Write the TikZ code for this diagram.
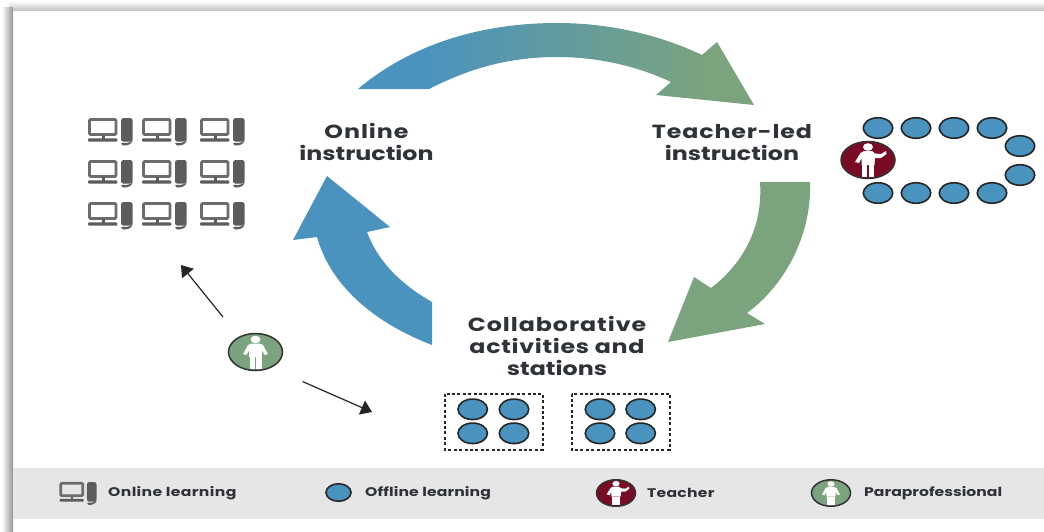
\documentclass[tikz,border=0pt]{standalone}
\usepackage{fontspec}
\usetikzlibrary{shapes.geometric,arrows.meta}
\setmainfont[FakeStretch=1.25]{Poppins}
\newcommand{\wider}[2]{{\addfontfeature{LetterSpace=#1}#2}}
\definecolor{cblue}{HTML}{4A93BF}
\definecolor{cgreen}{HTML}{7BA37D}
\definecolor{cmaroon}{HTML}{7A0B25}
\definecolor{cband}{HTML}{E6E6E6}
\definecolor{cicon}{HTML}{5C5C5C}
\definecolor{ctext}{HTML}{2F3338}
\pgfdeclarehorizontalshading{arcgrad}{100bp}{color(0bp)=(cblue); color(33bp)=(cblue); color(69bp)=(cgreen); color(100bp)=(cgreen)}
\tikzset{
  seat/.style={ellipse,draw=black!85,line width=1.6pt,fill=cblue,inner sep=0pt,minimum width=29.5pt,minimum height=20.5pt},
  seatsmall/.style={seat,minimum width=25pt,minimum height=17.5pt},
  role/.style={ellipse,draw=black!80,line width=1.5pt,inner sep=0pt,minimum width=54pt,minimum height=37pt},
  rolesmall/.style={role,minimum width=39pt,minimum height=26.5pt},
  biglabel/.style={inner sep=0pt,text=ctext,font=\bfseries\fontsize{19}{22}\selectfont,align=center},
  leglabel/.style={inner sep=0pt,text=ctext,font=\bfseries\fontsize{12.5}{14}\selectfont,anchor=west},
  pointer/.style={draw=black!85,line width=1.2pt,-{Triangle[length=11pt,width=15pt]}},
  pod/.style={draw=black!85,line width=2pt,dash pattern=on 3pt off 2.4pt},
  pc/.pic={
    \draw[cicon!90,line width=2.7pt,rounded corners=1pt] (1.5,1.5) rectangle (28,16.4);
    \fill[cicon] (13.5,17) rectangle (16.5,20.5);
    \fill[cicon,rounded corners=1pt] (0,20.3) rectangle (29.3,23.7);
    \fill[cicon,rounded corners=2.5pt] (33,0) rectangle (44.7,23.7);
    \fill[cicon] (33,25) .. controls (38,25) and (42,25) .. (44.7,22.5) .. controls (44,26) and (39,28) .. (35,27.5) -- cycle;
  },
  personbody/.pic={
    \fill[white] (0,-12.5) ellipse (5 and 3.8);
    \fill[white] (-4,-8.5) -- (4,-8.5) -- (7.5,-7) -- (12.5,2) -- (9,3) -- (6.3,-2) -- (6.5,5) -- (-6.5,5) -- (-6.3,-2) -- (-9,3) -- (-12.5,2) -- (-7.5,-7) -- cycle;
    \fill[white] (-6,5) rectangle (-0.6,17);
    \fill[white] (0.6,5) rectangle (6,17);
  },
  teacherbody/.pic={
    \fill[white] (0,-13) ellipse (5 and 3.8);
    \fill[white] (-4,-9) -- (4,-9) -- (7,-6.5) -- (13,-6) -- (18,-9) -- (18.5,-6) -- (13,-2) -- (7,-2) -- (6.5,5) -- (-6.5,5) -- (-6.3,-2) -- (-9,3) -- (-13,2) -- (-7.5,-7) -- cycle;
    \fill[white] (-6,5) rectangle (-0.6,17);
    \fill[white] (0.6,5) rectangle (6,17);
  }
}
\begin{document}
\begin{tikzpicture}[x=1pt,y=-1pt]
\useasboundingbox (0,0) rectangle (1044,531);
\fill[white] (0,0) rectangle (1044,531);
% page shadow
\shade[top color=white,bottom color=black!22] (9,1) rectangle (1044,10);
\shade[left color=white,right color=black!42] (2,7) rectangle (13,531);
% legend band
\fill[cband] (13,467.5) rectangle (1044,519);
% cycle arrows
\path[shading=arcgrad] (358,89) .. controls (410,45) and (480,23) .. (557,23) .. controls (610,23) and (660,35) .. (702,55) -- (717,42) -- (754,105) -- (656,95) -- (671,82) .. controls (635,65) and (595,57) .. (557,57) .. controls (510,57) and (470,68) .. (429,89) -- cycle;
\fill[cgreen] (760,182) -- (810,182) .. controls (812,235) and (785,285) .. (747,313) -- (765,324) -- (668,342) -- (694,277) -- (711,288) .. controls (745,262) and (763,225) .. (760,182) -- cycle;
\fill[cblue] (432,345) .. controls (380,325) and (332,290) .. (317,237) -- (293,240) -- (327,176) -- (390,227) -- (367,232) .. controls (378,262) and (402,285) .. (432,302) -- cycle;
% labels
\node[biglabel] (online) at (366.5,141.5) {\wider{5}{Online}\\instruction};
\node[biglabel] (teacherled) at (732,142.5) {\wider{4.5}{Teacher-led}\\instruction};
\node[biglabel] (collab) at (557,345.5) {\wider{5}{Collaborative}\\\wider{3.6}{activities and}\\stations};
% computers
\foreach \cx in {88,142,200}
  \foreach \cy in {118,160,202}
    \pic at (\cx,\cy) {pc};
% ring of seats
\foreach \n/\sx/\sy in {a/878/128,b/916/128,c/954/128,d/992/128,e/1020/146,f/1020/175,g/992/193,h/954/193,i/916/193,j/878/193}
  \node[seat] (ring\n) at (\sx,\sy) {};
\node[role,fill=cmaroon] (teacherrole) at (868,160) {};
\pic at (teacherrole.center) {teacherbody};
% paraprofessional
\node[role,fill=cgreen] (pararole) at (255.5,352) {};
\pic at (pararole.center) {personbody};
\coordinate (paraA) at (223,317);
\coordinate (paraAend) at (181,265);
\coordinate (paraB) at (302.5,381.5);
\coordinate (paraBend) at (372,412);
\draw[pointer] (paraA) -- (paraAend);
\draw[pointer] (paraB) -- (paraBend);
% stations
\draw[pod] (445,393.5) rectangle (542.5,449.5);
\draw[pod] (571.5,393.5) rectangle (669.5,449.5);
\foreach \n/\sx/\sy in {a/472.7/409.3,b/514/409.3,c/472.7/433.3,d/514/433.3,e/600/409.3,f/640.7/409.3,g/600/433.3,h/640.7/433.3}
  \node[seat] (pod\n) at (\sx,\sy) {};
% legend
\pic[scale=0.83] at (59.5,482) {pc};
\node[leglabel] (legonline) at (108,493) {\wider{3}{Online learning}};
\node[seatsmall] (legseat) at (338.5,492.5) {};
\node[leglabel] (legoffline) at (365,493) {\wider{1}{Offline learning}};
\node[rolesmall,fill=cmaroon] (legteacher) at (616,493) {};
\pic[scale=0.72] at (legteacher.center) {teacherbody};
\node[leglabel] (legteachertext) at (647,493) {\wider{2}{Teacher}};
\node[rolesmall,fill=cgreen] (legpara) at (831,493) {};
\pic[scale=0.72] at (legpara.center) {personbody};
\node[leglabel] (legparatext) at (864,493) {Paraprofessional};
\end{tikzpicture}
\end{document}
